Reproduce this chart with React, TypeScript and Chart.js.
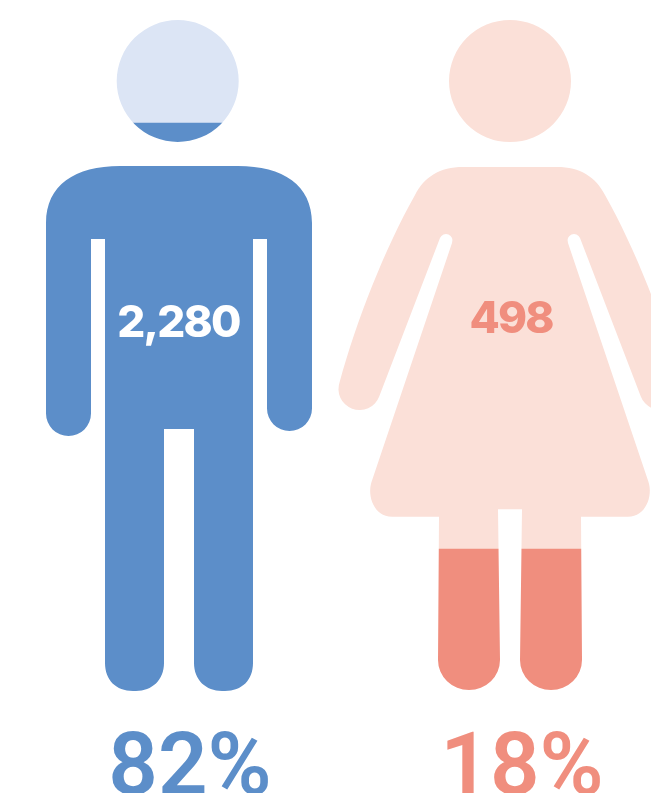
import React, { useEffect, useRef } from "react";
import { Chart, registerables } from "chart.js";

Chart.register(...registerables);

const categories = ["Men", "Women"];
const shares = [82, 18];
const counts = ["2,280", "498"];

// The pictogram runs a little past both ends of the 0-100 share range.
const AXIS_MIN = -3.34;
const AXIS_MAX = 97.47;

const darkColors = ["#5c8ec9", "#f08e7e"];
const lightColors = ["#dce5f5", "#fbe0d8"];
const countColors = ["#ffffff", "#f08e7e"];

const manShape =
  "M116.7,81 a61,61 0 1,0 122,0 a61,61 0 1,0 -122,0 Z " +
  "M46,223 C46,185 75,166 120,166 H238 C283,166 312,185 312,223 V408.5 A22.5,22.5 0 0 1 267,408.5 V239 H253 V663 " +
  "C253,680 242,691 225,691 H222 C206,691 194,680 194,663 V429 H164 V663 C164,680 152,691 136,691 H133 " +
  "C116,691 105,680 105,663 V239 H91 V413.5 A22.5,22.5 0 0 1 46,413.5 Z";

const womanShape =
  "M449,81 a61,61 0 1,0 122,0 a61,61 0 1,0 -122,0 Z " +
  "M463,167 H557 C580,167 596,177 605,195 C635,248 664,322 680.2,381.6 A21,21 0 0 1 640.8,396.4 L580,238 " +
  "A6,6 0 0 0 568,243 L648.5,482 C653,496 646,516.7 628,516.7 H581 L582,660 A31,30 0 0 1 520,660 L522,509.3 H498 " +
  "L500,660 A31,30 0 0 1 438,660 L439,516.7 H392 C374,516.7 367,496 371.5,482 L452,243 A6,6 0 0 0 440,238 " +
  "L379.2,396.4 A21,21 0 0 1 339.8,381.6 C356,322 385,248 415,195 C424,177 440,167 463,167 Z";

const shapes = [manShape, womanShape];
const shapeCentres = [178, 510];
const SHAPE_TOP = 20;
const countLevels = [51.8, 52.5];
const countOffsets = [0.5, 1];

const silhouettePlugin = {
  id: "silhouette",
  beforeDatasetDraw(chart: any, args: any) {
    const ctx = chart.ctx;
    const i = chart.data.datasets[args.index].person;
    const dx = chart.scales.x.getPixelForValue(i) - shapeCentres[i];
    const dy = chart.chartArea.top - SHAPE_TOP;
    ctx.save();
    ctx.translate(dx, dy);
    ctx.clip(new Path2D(shapes[i]));
    ctx.translate(-dx, -dy);
  },
  afterDatasetDraw(chart: any) {
    chart.ctx.restore();
  },
  afterDatasetsDraw(chart: any) {
    const ctx = chart.ctx;
    ctx.save();
    ctx.font = "800 44px Inter";
    ctx.letterSpacing = "-1.8px";
    ctx.textAlign = "center";
    ctx.textBaseline = "middle";
    categories.forEach((_, i) => {
      ctx.fillStyle = countColors[i];
      ctx.fillText(
        counts[i],
        chart.scales.x.getPixelForValue(i) + countOffsets[i],
        chart.scales.y.getPixelForValue(countLevels[i])
      );
    });
    ctx.restore();
  },
};

export default function App() {
  const ref = useRef<HTMLCanvasElement>(null);

  useEffect(() => {
    const only = (i: number, v: any) => categories.map((_, k) => (k === i ? v : null));
    const thickness = [280, 360];
    const datasets: any[] = [];
    categories.forEach((name, i) => {
      datasets.push({
        label: `${name} share`,
        person: i,
        data: only(i, [AXIS_MIN, shares[i]]),
        backgroundColor: darkColors[i],
        barThickness: thickness[i],
        grouped: false,
        clip: false,
      });
      datasets.push({
        label: `${name} rest`,
        person: i,
        data: only(i, [shares[i], AXIS_MAX]),
        backgroundColor: lightColors[i],
        barThickness: thickness[i],
        grouped: false,
        clip: false,
      });
    });

    const chart = new Chart(ref.current!, {
      type: "bar",
      data: { labels: categories, datasets },
      plugins: [silhouettePlugin],
      options: {
        animation: false,
        responsive: false,
        devicePixelRatio: 1,
        layout: { padding: { left: 12, right: 12, top: 20, bottom: 0 } },
        plugins: { legend: { display: false }, tooltip: { enabled: false } },
        scales: {
          x: {
            grid: { display: false },
            border: { display: false },
            afterFit(scale: any) {
              scale.height = 102;
            },
            ticks: {
              callback: (_: any, i: number) => `${shares[i]}%`,
              color: darkColors,
              font: { family: "Roboto", size: 87, weight: "600" },
              padding: 21,
              labelOffset: 12,
              maxRotation: 0,
              autoSkip: false,
            },
          },
          y: { display: false, min: AXIS_MIN, max: AXIS_MAX },
        },
      },
    } as any);
    return () => chart.destroy();
  }, []);

  return (
    <div style={{ position: "absolute", left: 0, top: 0, width: 651, height: 793, overflow: "hidden", background: "#fff" }}>
      <canvas ref={ref} width={688} height={793} style={{ display: "block" }} />
    </div>
  );
}
